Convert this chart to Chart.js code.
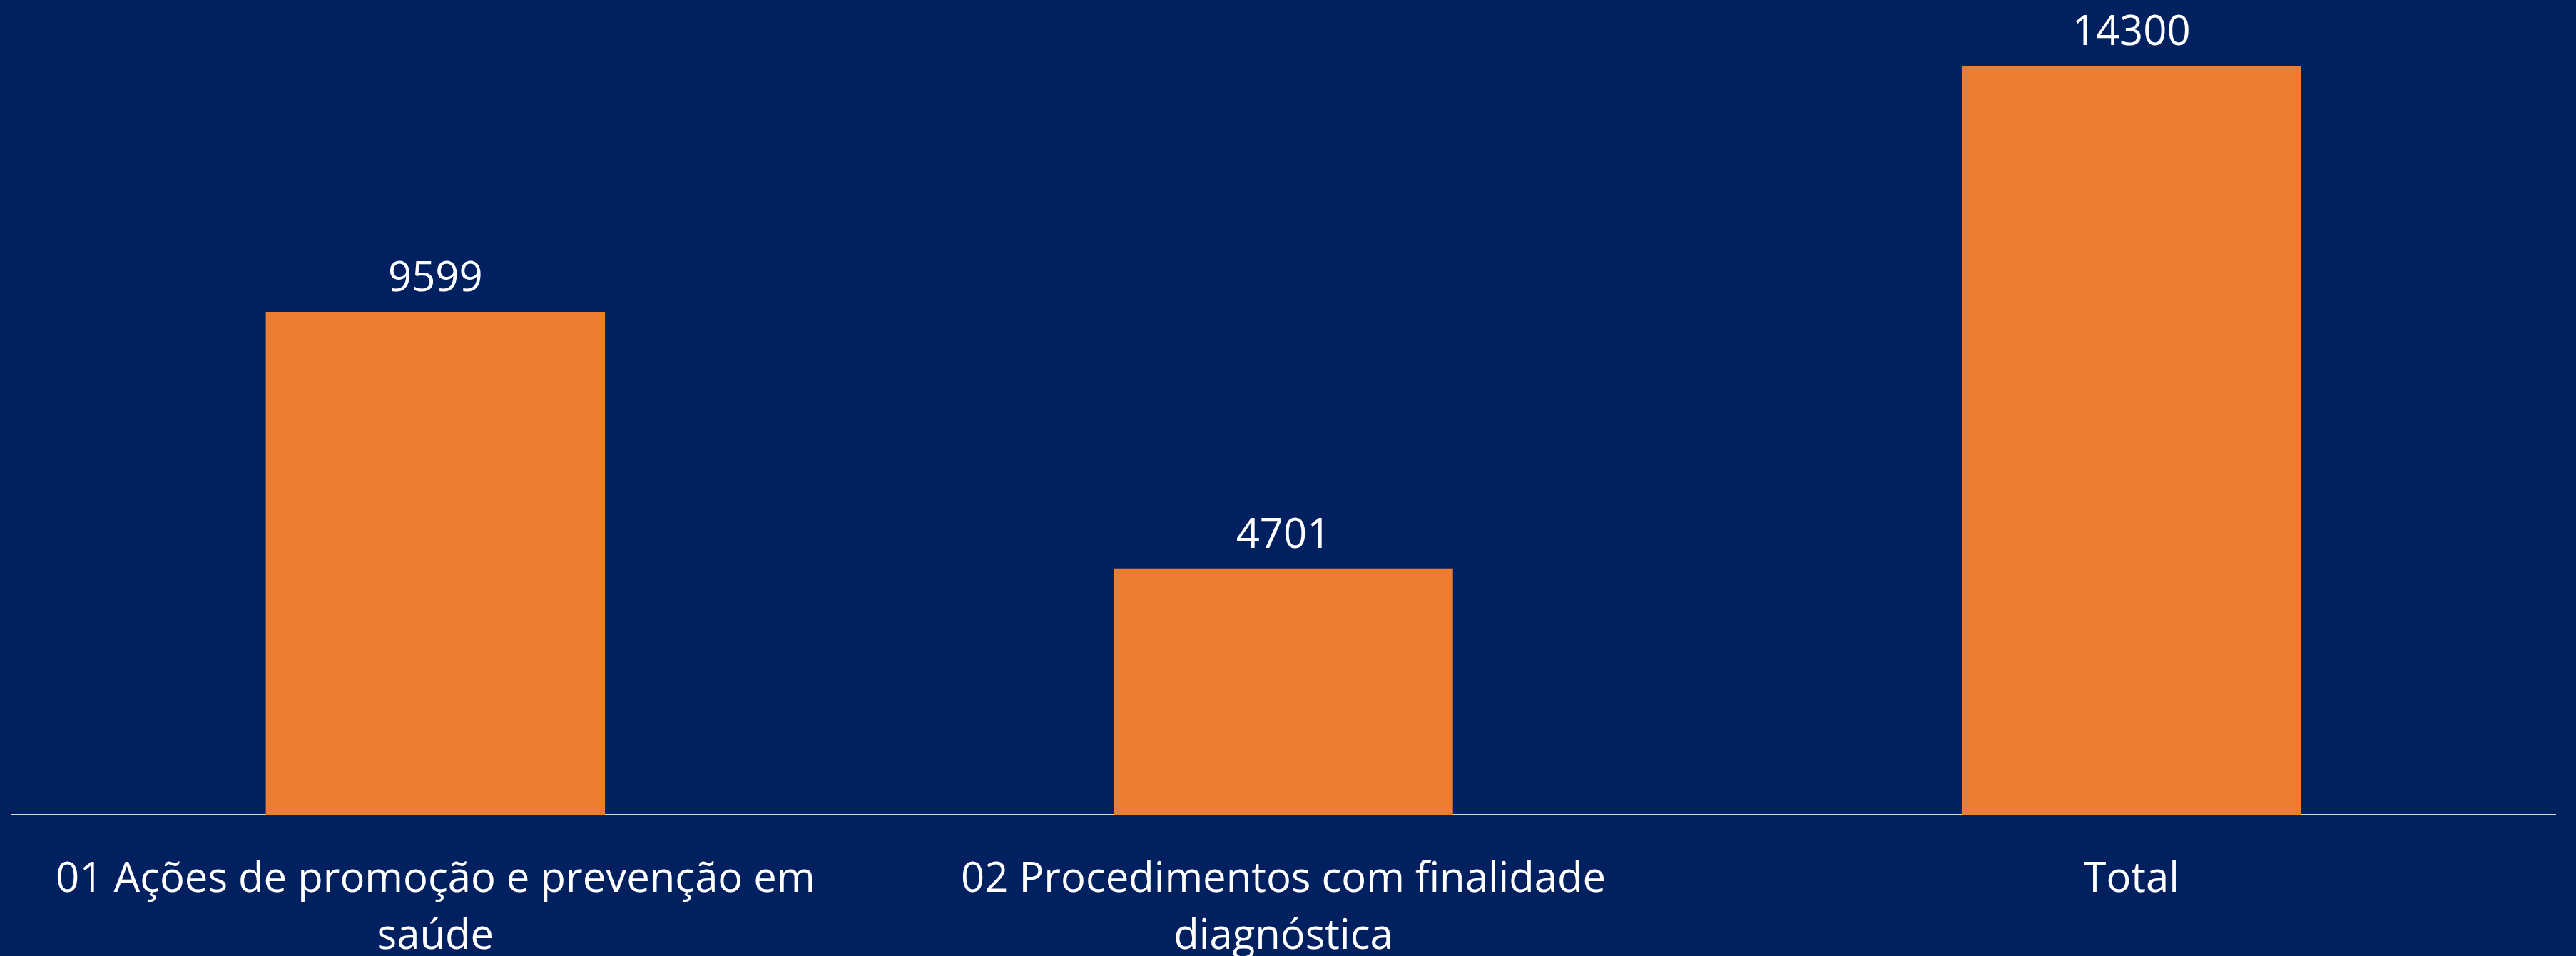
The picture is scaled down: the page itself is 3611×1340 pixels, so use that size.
<!DOCTYPE html>
<html>
<head>
<meta charset="utf-8">
<script src="https://cdn.jsdelivr.net/npm/chart.js@4"></script>
<style>
    html, body { margin: 0; padding: 0; background: #002060; }
    #wrap { width: 3611px; height: 1340px; position: relative; }
</style>
</head>
<body>
<div id="wrap"><canvas id="barChart"></canvas></div>
<script>
// chart data
var categories = [
    ["01 Ações de promoção e prevenção em", "saúde"],
    ["02 Procedimentos com finalidade", "diagnóstica"],
    "Total"
];
var values = [9599, 4701, 14300];

var barColor = '#ED7D31';
var textColor = '#FFFFFF';
var fontFamily = "'Open Sans', sans-serif";

// draws the number over each bar, like the excel data labels
var valueLabels = {
    id: 'valueLabels',
    afterDatasetsDraw: function (chart) {
        var ctx = chart.ctx;
        var meta = chart.getDatasetMeta(0);
        ctx.save();
        ctx.fillStyle = textColor;
        ctx.font = '58px ' + fontFamily;
        ctx.textAlign = 'center';
        ctx.textBaseline = 'alphabetic';
        meta.data.forEach(function (bar, i) {
            ctx.fillText(String(values[i]), bar.x, bar.y - 29);
        });
        ctx.restore();
    }
};

var barChart = new Chart(document.getElementById('barChart'), {
    type: 'bar',
    data: {
        labels: categories,
        datasets: [{
            data: values,
            backgroundColor: barColor,
            borderWidth: 0,
            categoryPercentage: 1.0,
            barPercentage: 0.4
        }]
    },
    options: {
        responsive: true,
        maintainAspectRatio: false,
        animation: false,
        layout: { padding: { left: 16, right: 29, top: 0, bottom: 0 } },
        plugins: {
            legend: { display: false },
            tooltip: { enabled: false }
        },
        scales: {
            x: {
                grid: { display: false, drawTicks: false },
                border: { display: true, color: '#D9D9D9', width: 2 },
                ticks: {
                    color: textColor,
                    maxRotation: 0,
                    autoSkip: false,
                    padding: 51,
                    font: { family: fontFamily, size: 58, lineHeight: 1.38 }
                },
                afterFit: function (scale) { scale.height = 198; }
            },
            y: {
                display: false,
                min: 0,
                max: 15552
            }
        }
    },
    plugins: [valueLabels]
});
</script>
</body>
</html>
